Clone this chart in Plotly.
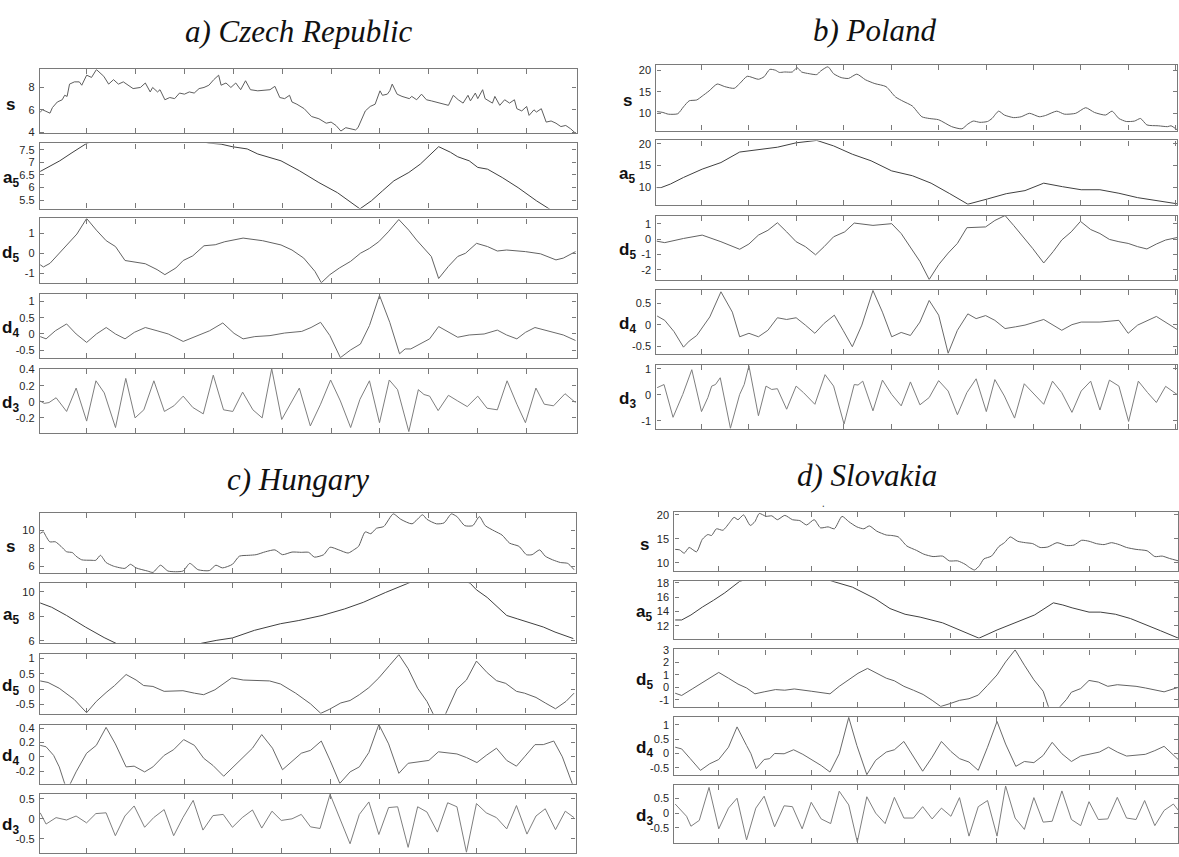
import plotly.graph_objects as go

W, H = 1179, 857

# ---------------- data: (month index, value) ----------------
# a) Czech Republic
cz_s = [(1,5.8),(2,6.0),(3,5.9),(5,5.7),(6,6.2),(8,6.7),(10,6.9),(11,7.3),(12,7.2),(13,8.3),(15,8.5),(17,8.5),(18,8.2),(20,9.1),(22,8.9),(24,9.6),(27,9.0),(29,8.3),(31,8.7),(33,8.3),(35,8.5),(37,8.2),(39,7.9),(42,8.0),(44,8.4),(46,7.6),(47,8.0),(49,7.6),(50,7.8),(52,6.9),(54,7.1),(56,7.0),(58,7.5),(60,7.4),(62,7.6),(64,7.5),(66,7.9),(68,8.0),(70,8.2),(72,8.7),(74,9.1),(75,8.2),(77,8.4),(79,8.0),(81,8.4),(83,7.8),(85,8.6),(87,7.8),(90,7.7),(95,7.8),(97,8.1),(99,7.1),(101,7.0),(103,7.3),(104,6.7),(106,6.5),(109,6.1),(112,5.4),(115,5.2),(118,4.8),(120,4.9),(122,4.6),(124,4.1),(126,4.4),(128,4.3),(130,4.2),(131,4.4),(133,5.3),(134,5.9),(136,6.3),(138,6.5),(140,7.7),(141,7.3),(143,7.4),(144,7.7),(145,8.3),(147,7.4),(149,7.2),(152,7.0),(153,7.2),(155,6.9),(157,7.4),(159,6.9),(161,6.8),(164,6.6),(166,6.5),(168,6.4),(170,7.3),(172,6.9),(174,6.6),(176,7.3),(177,6.8),(179,7.5),(180,7.0),(182,7.8),(183,7.0),(186,6.6),(187,7.2),(189,6.4),(191,6.9),(193,6.6),(195,6.9),(196,6.1),(198,5.9),(200,6.3),(201,5.5),(203,6.0),(204,5.8),(206,6.1),(208,4.9),(210,5.0),(212,4.8),(214,4.5),(216,4.6),(218,4.3),(220,3.9)]
cz_a5 = [(1,6.64),(5,6.85),(9,7.06),(14,7.38),(20,7.75),(30,8.1),(40,8.3),(50,8.35),(60,8.2),(66,7.85),(70,7.76),(75,7.72),(79.5,7.62),(85.7,7.53),(90,7.33),(99.5,7.06),(107,6.67),(115,6.2),(122.6,5.8),(131.8,5.16),(136.5,5.48),(141,5.87),(145.7,6.27),(151.8,6.6),(156.5,6.93),(164,7.62),(168.8,7.4),(171.8,7.22),(176.5,7.06),(180,6.8),(184,6.73),(190,6.4),(196.5,6.0),(204,5.48),(211,5.1),(220,4.5)]
cz_d5 = [(1,-0.57),(2.3,-0.68),(5,-0.5),(8,-0.1),(10,0.2),(13,0.55),(16,0.95),(20,1.72),(24,1.14),(28,0.62),(31.8,0.33),(35.7,-0.36),(39.5,-0.44),(44,-0.52),(48.8,-0.81),(52,-1.06),(56.5,-0.73),(59.5,-0.36),(63.4,-0.13),(68,0.37),(72.6,0.42),(76.5,0.57),(84,0.75),(92,0.62),(99.5,0.41),(104,0.16),(108.8,-0.24),(113.4,-0.9),(116,-1.46),(119.5,-1.06),(123.4,-0.73),(128,-0.4),(132,0),(135.7,0.24),(139.5,0.57),(143.4,1.06),(147.7,1.67),(151.8,1.14),(155,0.65),(158.8,0.16),(161,-0.16),(164,-1.25),(168,-0.65),(171.8,-0.16),(175,0),(179.5,0.49),(184,0.33),(188,0.11),(191.8,0.16),(199.5,0.08),(205.7,-0.03),(212,-0.33),(215,-0.24),(220,0.08)]
cz_d4 = [(1,-0.08),(3.4,-0.15),(7.2,0.1),(11.8,0.31),(15.7,0),(20,-0.26),(24,0),(28,0.2),(31.8,0),(35.7,-0.15),(39.5,0.05),(44,0.2),(48.8,0.1),(53.4,0),(59.5,-0.23),(64,-0.1),(70.3,0.1),(75.7,0.34),(80.3,0.02),(84,-0.15),(88.8,-0.08),(95,-0.05),(101,0.03),(108,0.08),(111.8,0.2),(115.7,0.36),(119.5,-0.05),(123.8,-0.73),(128,-0.49),(132,-0.31),(135.7,0.26),(139.8,1.19),(144,0.36),(148,-0.61),(150.3,-0.46),(152.6,-0.46),(156.5,-0.31),(160.3,-0.15),(164,0.23),(168,0.05),(171.8,-0.1),(176.5,-0.03),(182.6,0),(188,0.12),(191.8,-0.03),(196,-0.15),(199.5,0.05),(203.4,0.2),(208.8,0.1),(215,-0.03),(220,-0.2)]
cz_d3 = [(1,0.01),(2.6,-0.02),(4.6,-0.01),(7.5,0.05),(11.8,-0.12),(15.7,0.17),(20,-0.24),(23.8,0.26),(27.2,0.11),(31.8,-0.32),(36,0.29),(39.8,-0.2),(43.4,-0.1),(47.5,0.26),(51.8,-0.12),(55.7,-0.05),(59.5,0.07),(63.4,-0.07),(67.7,-0.15),(71.8,0.33),(76,-0.1),(79.8,-0.12),(83.8,0.12),(88,-0.1),(91.8,-0.2),(95.7,0.41),(99.8,-0.22),(103.4,-0.03),(107,0.17),(111.5,-0.3),(115.7,-0.03),(119.8,0.27),(123.8,0.01),(128,-0.32),(131.8,0.03),(135.7,0.26),(139.8,-0.26),(143.8,0.27),(147.2,0.15),(151.8,-0.37),(155.7,0.15),(158,0.09),(160.3,0.07),(163.8,-0.11),(168,0.08),(171.8,0.01),(175.7,-0.06),(180,0.07),(183.8,-0.08),(188,-0.1),(192,0.26),(196,-0.03),(199.5,-0.26),(203.8,0.17),(207.2,-0.03),(211,-0.05),(215.7,0.1),(220,-0.01)]

# b) Poland
pl_s = [(1.3,10.4),(3.7,10.2),(6,9.8),(10,9.9),(12.4,11.5),(14.8,12.9),(18,13.1),(20.3,14),(23.2,15.2),(26.6,16.8),(29.8,16.2),(33.8,15.8),(36.1,16.9),(39.3,18.6),(44,17.9),(46.4,18.5),(48.8,20.2),(51.2,20),(52.8,19.5),(55.1,19.6),(58.3,19.6),(60.3,20.6),(62.2,19.6),(65.4,19.2),(68.6,19),(70.2,19.8),(73.3,20.8),(75.7,19.2),(78.9,18.3),(82,18.1),(85.5,19.1),(89.1,17.8),(93.1,16.9),(97.8,16.2),(101.8,13.8),(105,12.8),(108.9,11.7),(112.9,9.2),(116,8.8),(120,8.5),(125.5,6.9),(129.8,6.4),(132.3,7.5),(134.6,8.2),(137.4,7.9),(140.6,8.1),(142.5,8.8),(145.3,10.5),(147.7,9.6),(151.6,9),(154.8,9.2),(158.3,10),(162.4,9.2),(165.1,9.5),(169.8,10.5),(173,9.8),(177.8,10),(182,11.3),(185.7,10.2),(190.4,9.6),(193.1,10.5),(196,8.8),(199.1,8.1),(202.6,8.2),(205.1,8.8),(207.8,7.3),(212.6,7.1),(216.5,6.9),(218,7.1),(220.5,6.2)]
pl_a5 = [(1,10),(3,10),(6.9,10.8),(12.4,12.3),(20.3,14.2),(28.2,15.7),(36.1,18.1),(44,18.7),(52,19.2),(59.9,20.2),(68.6,20.75),(75.7,19.5),(83.6,17.6),(91.5,16.1),(100.2,13.8),(108.9,12.7),(116.8,11),(124.7,8.6),(132.3,6.2),(140.6,7.4),(148.5,8.6),(156.4,9.3),(164.3,11),(172.2,10.2),(180.1,9.5),(188,9.5),(196,8.7),(203.9,7.7),(220.5,6.3)]
pl_d5 = [(1,-0.13),(4.5,-0.23),(12.4,0.04),(20.3,0.26),(28.2,-0.17),(36.1,-0.66),(40,-0.32),(44,0.26),(48,0.57),(52,1.06),(55.9,0.47),(59.9,-0.17),(63.8,-0.49),(68.1,-1.02),(71.7,-0.49),(75.7,0.15),(80.4,0.47),(84.4,1.04),(92.3,0.89),(100.2,1.0),(104.2,0.36),(108.9,-0.7),(112.1,-1.45),(116,-2.62),(120,-1.66),(124,-0.91),(127.9,-0.28),(131.9,0.74),(139.8,0.79),(143.7,1.21),(148,1.53),(151.6,0.89),(155.6,0.15),(159.6,-0.6),(164.3,-1.55),(168.3,-0.81),(171.9,-0.06),(175.9,0.47),(179.8,1.15),(184.1,0.62),(188,0.36),(192,-0.02),(196,-0.17),(199.9,-0.28),(203.9,-0.49),(207.8,-0.64),(211.8,-0.32),(215.7,-0.06),(220.5,0.1)]
pl_d4 = [(1.3,0.2),(4.5,0.1),(8.4,-0.16),(12.4,-0.52),(14.8,-0.38),(18,-0.25),(23.5,0.18),(28.2,0.76),(33,0.29),(36.1,-0.28),(40,-0.2),(44,-0.28),(48,-0.13),(52,0.16),(55.9,0.12),(59.9,0.16),(63.8,-0.01),(67.8,-0.2),(71.7,0.03),(76,0.22),(79.7,-0.13),(83.6,-0.51),(87.6,-0.01),(92.3,0.79),(96.3,0.29),(100.2,-0.28),(104.2,-0.18),(108.1,-0.25),(112.1,0.06),(116,0.56),(120,0.22),(124,-0.66),(127.9,-0.13),(132.3,0.25),(135.8,0.14),(139.8,0.21),(143.7,0.1),(148,-0.09),(152.4,-0.05),(156.4,-0.01),(164.3,0.12),(171.9,-0.13),(176.2,0),(180.1,0.06),(188,0.06),(196,0.1),(199.9,-0.2),(203.9,-0.01),(211.8,0.19),(216.5,0.02),(220.5,-0.11)]
pl_d3 = [(1.3,0.27),(4.2,0.39),(8,-0.87),(12.1,0.01),(15.9,0.96),(20,-0.65),(22.7,-0.11),(24.3,0.33),(25.9,0.39),(27.9,0.65),(32.2,-1.29),(36.1,0.01),(38,0.39),(40,1.11),(44,-0.81),(47.2,0.33),(49.6,0.2),(52,0.23),(55.9,-0.56),(59.9,0.33),(63,0.08),(67.8,-0.37),(72.1,0.77),(75.7,0.33),(80.1,-1.13),(84.4,0.39),(86,0.37),(88,0.52),(92.3,-0.62),(96.3,0.56),(100.2,0.01),(104.2,-0.43),(108.1,0.49),(112.1,-0.39),(116,-0.11),(120,0.54),(124,0.14),(127.9,-0.77),(131.9,0.08),(135.8,0.61),(140.1,-0.65),(143.7,0.58),(147.7,-0.05),(152,-0.9),(156.1,0.42),(160.4,0.01),(164.3,-0.37),(168,0.52),(171.9,0.08),(176.2,-0.68),(180.1,0.14),(184.1,0.52),(188,-0.59),(192,0.56),(196,0.33),(200.1,-1.03),(204.2,0.52),(208.1,0.08),(211.8,-0.3),(215.7,0.32),(220.5,0.01)]

# c) Hungary
hu_s = [(1,9.64),(2.3,9.8),(3.4,9.3),(4.9,8.7),(7.2,8.7),(9.5,8.2),(11.8,7.6),(14.2,7.5),(15.7,7.1),(18,6.7),(21.8,6.65),(23.8,6.65),(25.7,7.2),(28,6.4),(31,6.0),(35.7,5.75),(38,6.2),(40.3,5.8),(45,5.45),(47.2,5.3),(50.3,6.1),(53.4,5.45),(59.5,5.45),(62.3,6.3),(65.7,5.6),(70.3,5.5),(73,6.1),(75.7,5.8),(79.8,6.2),(82.6,7.1),(86.5,7.2),(89.5,7.27),(93.4,7.6),(97.2,7.8),(100.3,7.27),(104.2,7.56),(108,7.53),(111,7.53),(113.4,7.0),(117.2,7.27),(119.8,8.1),(123.4,7.8),(127.2,7.45),(129.5,7.8),(131.5,8.2),(134.2,9.8),(136.5,9.6),(138.8,10.2),(141.8,10.4),(145.7,11.8),(148.8,11.2),(153.4,10.7),(157.7,11.7),(159.5,11.2),(163.4,10.7),(166.5,10.8),(169.5,11.8),(171.8,11.5),(175,10.5),(178.3,10.5),(181,11.5),(183.4,10.5),(187.2,9.9),(190.3,9.45),(193.4,8.55),(197.2,8.2),(200.3,7.27),(202.6,7.27),(205.7,7.8),(208,7.1),(211,6.7),(214.2,6.4),(217.2,6.3),(219.8,5.6)]
hu_a5 = [(1,9.09),(5.7,8.74),(11.8,8.07),(19.5,7.13),(27.2,6.27),(32.8,5.73),(40,5.35),(50,5.15),(60,5.35),(67.2,5.81),(73.4,6.05),(79.8,6.24),(88.8,6.86),(99.5,7.4),(107,7.66),(116.5,8.07),(125.7,8.6),(133.4,9.14),(142.6,9.95),(151,10.7),(158,11.2),(164,11.35),(171,11.15),(177.2,10.7),(179.8,10.16),(184.2,9.54),(188.8,8.74),(192.2,8.07),(196.5,7.8),(201,7.53),(207.2,7.13),(212,6.72),(219.5,6.19)]
hu_d5 = [(1,0.27),(4.2,0.22),(8.8,0.03),(15,-0.34),(20,-0.77),(24,-0.4),(28,-0.11),(31.5,0.12),(36.2,0.48),(40.3,0.3),(43.4,0.12),(47.2,0.09),(51.8,-0.07),(59.5,-0.05),(64.2,-0.13),(68,-0.18),(72.6,-0.02),(79.5,0.37),(84.2,0.3),(90.3,0.27),(95,0.27),(99.5,0.17),(105.7,-0.13),(111.8,-0.48),(116,-0.79),(119.5,-0.66),(124.2,-0.45),(128,-0.37),(131.8,-0.18),(135.7,0.05),(139.8,0.37),(144.2,0.78),(148,1.13),(151.8,0.67),(155.7,0.03),(159.5,-0.4),(161.8,-0.8),(164.5,-1.2),(167.2,-0.8),(171.8,0.01),(175.7,0.3),(179.8,0.92),(184.2,0.54),(188,0.28),(191.8,0.19),(196.2,-0.07),(199.5,-0.13),(204.2,-0.27),(208,-0.45),(212.2,-0.64),(216.5,-0.4),(219.8,-0.13)]
hu_d4 = [(1,0.16),(3.4,0.14),(6.5,0.02),(8.8,-0.14),(11,-0.37),(12.2,-0.42),(13.4,-0.37),(15.7,-0.21),(20,0.05),(24,0.16),(28,0.41),(31.8,0.18),(36.2,-0.14),(39.5,-0.13),(43.8,-0.21),(47.2,-0.14),(51.8,0.02),(55.7,0.1),(59.8,0.24),(64.2,0.16),(68,-0.02),(71.8,-0.12),(76.2,-0.27),(80.3,-0.13),(84.2,0),(88,0.12),(91.8,0.31),(96.2,0.12),(100.3,-0.18),(104.2,-0.07),(108,0.05),(111.8,0.09),(116.2,0.22),(119.8,-0.05),(123.8,-0.37),(128,-0.21),(131.8,-0.14),(135.7,0.06),(139.8,0.45),(143.8,0.18),(148,-0.23),(151.8,-0.09),(155.7,-0.07),(160.3,-0.05),(164.2,0.07),(168,0.05),(171.8,0.04),(175.7,-0.01),(180,-0.08),(183.8,0.02),(188,0.12),(192.2,-0.05),(196.2,-0.13),(199.5,0),(203.8,0.17),(207.2,0.17),(211.5,0.22),(215,0),(218.8,-0.37),(220,-0.46)]
hu_d3 = [(1,0.15),(3.4,-0.13),(7.5,0.03),(11.8,-0.03),(15.7,0.07),(20,-0.1),(23.8,0.13),(28,0.15),(31.8,-0.42),(35.7,0.07),(39.5,0.32),(43.8,-0.21),(47.5,0.03),(51.8,0.23),(55.7,-0.42),(59.5,0.03),(63.7,0.46),(67.7,-0.28),(71.8,0.08),(76,0.11),(79.8,-0.21),(83.8,0.03),(88,0.22),(91.8,-0.23),(96,0.19),(99.8,-0.04),(104.2,0),(108,0.11),(111.8,-0.2),(115.7,-0.24),(119.8,0.61),(123.8,0.03),(128,-0.62),(131.8,0.11),(135.7,0.42),(139.8,-0.39),(143.8,0.28),(147.5,0.3),(151.8,-0.71),(155.7,0.3),(159.5,0.17),(163.8,-0.33),(168,0.4),(171.8,0.3),(175.7,-0.83),(179.8,0.38),(183.8,0.15),(188,0.03),(192.2,-0.25),(196.2,0.33),(200.5,-0.38),(204.2,0.07),(208,0.25),(212.2,-0.27),(216.2,0.19),(219.8,0.03)]

# d) Slovakia
sk_s = [(1.2,12.8),(3.1,12.7),(5.1,12.0),(7.2,13.2),(10.4,12.3),(12.9,14.9),(15.3,15.9),(16.9,15.7),(19,17.1),(21.8,16.8),(25,18.6),(26.6,19.5),(28.3,19.0),(30.7,20.0),(33.6,17.8),(35.6,18.6),(37.5,20.3),(40.4,19.7),(42.9,19.8),(45.3,19.0),(48.5,19.9),(51.8,19.0),(55,18.8),(57.9,17.9),(61.2,19.0),(63.9,17.3),(67.2,17.5),(69.9,17.1),(73.2,19.7),(76.1,18.6),(79.6,17.5),(82.6,17.1),(85,17.7),(88.2,16.6),(92.3,15.8),(94.7,15.7),(97.5,15.4),(101.2,13.5),(105.3,12.6),(108.5,11.8),(112.5,11.3),(116.6,11.4),(119.5,10.4),(123.1,10.4),(126.3,9.7),(128.3,9.0),(130.4,8.5),(132.5,9.4),(134.4,10.8),(137.7,11.4),(140.9,13.4),(143.3,14.2),(145.8,15.4),(149,14.5),(152.3,14.2),(155.5,14.0),(158.7,13.2),(162,13.3),(166,14.2),(170.1,13.6),(173.3,13.7),(176.6,14.7),(179.8,14.5),(183,14.0),(186.3,13.8),(189.5,14.2),(192.8,13.8),(196,13.2),(200.1,12.8),(204.9,12.5),(208.2,11.3),(211.4,11.4),(214.6,10.9),(218.4,10.4)]
sk_a5 = [(1.2,12.8),(4,12.8),(8,13.5),(12.9,14.6),(17.7,15.55),(22.6,16.6),(29,18.2),(40,19.3),(50,19.6),(60,19.2),(69.3,18.2),(77.7,17.4),(87.4,15.8),(93.9,14.4),(100.4,13.6),(106.9,13.2),(116.6,12.4),(124.7,11.3),(132.3,10.25),(140.1,11.4),(148.2,12.4),(156.3,13.5),(164.4,15.2),(168.5,14.9),(172.5,14.5),(179.8,13.9),(184.7,13.9),(191.2,13.6),(197.7,13.0),(204.1,12.1),(210.6,11.3),(218.4,10.25)]
sk_d5 = [(1.2,-0.47),(4,-0.65),(8.8,-0.1),(12.1,0.29),(15.8,0.68),(20,1.19),(24.2,0.73),(28.3,0.26),(32,-0.05),(35.6,-0.52),(39.6,-0.36),(44.5,-0.18),(48.5,-0.23),(52.6,-0.13),(59.9,-0.31),(68,-0.52),(72,0.08),(76.1,0.6),(80.1,1.12),(84.2,1.51),(88.2,1.12),(92.3,0.73),(95.8,0.52),(99.9,0.08),(104,-0.23),(108.2,-0.57),(112.1,-1.04),(115.8,-1.53),(119.8,-1.3),(123.9,-1.04),(128,-0.91),(132,-0.62),(136,0.16),(140.1,0.99),(143.8,2.03),(147.9,2.99),(151.9,1.77),(156,0.6),(160,-0.31),(162.3,-1.56),(164.7,-2.2),(167.2,-1.56),(170.1,-0.96),(172.2,-0.39),(176.2,-0.1),(179.8,0.55),(183.8,0.42),(187.9,0.08),(192,0.21),(200.1,0.08),(204.1,-0.05),(212.2,-0.36),(218.4,0)]
sk_d4 = [(1.2,0.22),(4,0.16),(7.7,-0.18),(12.1,-0.59),(16.1,-0.36),(20,-0.21),(24.2,0.22),(27.9,0.93),(32,0.28),(33.9,-0.01),(36.2,-0.53),(39.6,-0.21),(42,-0.18),(44.1,0),(48.2,-0.01),(52.3,0.13),(56.3,-0.03),(60.4,-0.24),(64.2,-0.42),(68,-0.65),(72,-0.01),(76.1,1.26),(79.6,0.28),(83.9,-0.74),(87.7,-0.24),(92.3,0.05),(95.8,0.13),(99.9,0.42),(104,-0.13),(108,-0.62),(112.1,-0.13),(116.1,0.42),(120.2,0.07),(123.9,-0.18),(128,-0.3),(132,-0.59),(136,0.22),(140.1,1.12),(143.8,0.33),(148.2,-0.45),(151.9,-0.28),(156,-0.32),(160,-0.07),(163.9,0.39),(168.1,-0.01),(172.2,-0.28),(176.2,-0.09),(180.3,-0.01),(184.3,0.05),(188.2,0.22),(192,0.05),(196,-0.09),(200.1,-0.05),(204.1,-0.03),(208.2,0.1),(212.2,0.25),(218.4,-0.22)]
sk_d3 = [(1.2,0.31),(4,0.09),(6.1,-0.11),(8,-0.45),(11.6,-0.25),(15.8,0.88),(20,-0.54),(24.2,0.17),(27.9,0.51),(32,-0.92),(36,0.17),(39.6,0.58),(44.1,-0.47),(48.2,0.25),(51.8,0.22),(56,-0.54),(59.9,0.37),(64.2,-0.2),(68.3,-0.36),(72,0.75),(76.1,0.28),(79.8,-0.99),(83.9,0.56),(87.7,0),(91.8,-0.36),(95.8,0.54),(99.9,-0.17),(104,-0.17),(108,0.22),(112.1,-0.2),(116.1,0.17),(120.2,-0.11),(123.9,0.53),(128,-0.79),(132,0.22),(136,0.43),(140.1,-0.79),(143.8,0.93),(147.9,-0.17),(151.9,-0.56),(156,0.53),(160,-0.31),(163.9,-0.28),(168.1,0.76),(172.2,-0.22),(176.2,-0.43),(179.8,0.39),(183.8,-0.22),(187.9,-0.2),(192,0.54),(196,-0.17),(200.1,-0.22),(203.8,0.43),(208.2,-0.43),(212.2,0.09),(216.2,0.31),(218.4,0.09)]

# titles, row labels, y tick values
titles = ["a) Czech Republic", "b) Poland", "c) Hungary", "d) Slovakia"]
row_labels = [("s", ""), ("a", "5"), ("d", "5"), ("d", "4"), ("d", "3")]
x_ticks = [20, 40, 60, 80, 100, 120, 140, 160, 180, 200, 220]
yticks = [
    [[4, 6, 8], [5.5, 6, 6.5, 7, 7.5], [-1, 0, 1], [-0.5, 0, 0.5, 1], [-0.2, 0, 0.2, 0.4]],
    [[10, 15, 20], [10, 15, 20], [-2, -1, 0, 1], [-0.5, 0, 0.5], [-1, 0, 1]],
    [[6, 8, 10], [6, 8, 10], [-0.5, 0, 0.5, 1], [-0.2, 0, 0.2, 0.4], [-0.5, 0, 0.5]],
    [[10, 15, 20], [12, 14, 16, 18], [-1, 0, 1, 2, 3], [-0.5, 0, 0.5, 1], [-0.5, 0, 0.5]],
]
series = [
    [cz_s, cz_a5, cz_d5, cz_d4, cz_d3],
    [pl_s, pl_a5, pl_d5, pl_d4, pl_d3],
    [hu_s, hu_a5, hu_d5, hu_d4, hu_d3],
    [sk_s, sk_a5, sk_d5, sk_d4, sk_d3],
]

# ---------------- layout (pixel boxes) ----------------
yranges = [
    [[3.88, 9.63], [5.17, 7.75], [-1.46, 1.72], [-0.735, 1.245], [-0.387, 0.41]],
    [[6.0, 21.15], [6.1, 20.75], [-2.64, 1.53], [-0.676, 0.81], [-1.32, 1.15]],
    [[5.2, 11.9], [5.79, 10.7], [-0.8, 1.14], [-0.376, 0.45], [-0.85, 0.625]],
    [[8.22, 20.6], [10.2, 18.23], [-1.55, 3.03], [-0.75, 1.29], [-1.03, 0.97]],
]
panel_layout = [
    dict(x0=40, x1=577, xr=[0.9, 220.4], tx=299, ty=26, lx=11,
         rows=[(64, 129), (139, 205), (215, 280), (291, 356), (367, 432)]),
    dict(x0=657, x1=1178, xr=[1.0, 220.5], tx=876, ty=25, lx=628,
         rows=[(60, 126), (136, 201), (212, 277), (287, 352), (363, 428)]),
    dict(x0=40, x1=576, xr=[0.9, 220.4], tx=298, ty=479, lx=11,
         rows=[(513, 574), (584, 645), (656, 716), (727, 787), (797, 857)]),
    dict(x0=675, x1=1179, xr=[0.87, 218.2], tx=868, ty=475, lx=645,
         rows=[(512, 572), (582, 640), (651, 709), (719, 778), (788, 847)]),
]

AX = "#7a7a7a"
line_colors = ["#5e5e5e", "#404040", "#626262", "#6a6a6a", "#7e7e7e"]
TICKFONT = dict(family="Liberation Sans Narrow, Liberation Sans, Arial", size=11, color="#262626")

fig = go.Figure()
annotations = []
layout = dict(width=W, height=H, margin=dict(l=0, r=0, t=0, b=0),
              paper_bgcolor="white", plot_bgcolor="white", showlegend=False)

def fmt(v):
    return "%g" % v

for p in range(4):
    pl = panel_layout[p]
    for r in range(5):
        n = p * 5 + r + 1
        xs, ys = zip(*series[p][r])
        shape = "spline" if (r == 0 and p > 0) else "linear"
        fig.add_trace(go.Scatter(
            x=list(xs), y=list(ys), mode="lines",
            line=dict(color=line_colors[r], width=1, shape=shape, smoothing=0.6),
            xaxis="x" if n == 1 else f"x{n}", yaxis="y" if n == 1 else f"y{n}",
            hoverinfo="skip"))
        top, bot = pl["rows"][r]
        xk = "xaxis" if n == 1 else f"xaxis{n}"
        yk = "yaxis" if n == 1 else f"yaxis{n}"
        layout[xk] = dict(domain=[pl["x0"] / W, pl["x1"] / W], range=pl["xr"],
                          anchor="y" if n == 1 else f"y{n}",
                          showline=True, linecolor=AX, linewidth=1.3, mirror="ticks",
                          ticks="inside", ticklen=5, tickcolor=AX, tickwidth=1,
                          tickvals=x_ticks, showticklabels=False,
                          showgrid=False, zeroline=False, fixedrange=True)
        tv = yticks[p][r]
        layout[yk] = dict(domain=[1 - bot / H, 1 - top / H], range=yranges[p][r],
                          anchor="x" if n == 1 else f"x{n}",
                          showline=True, linecolor=AX, linewidth=1.3, mirror="ticks",
                          ticks="inside", ticklen=4, tickcolor=AX, tickwidth=1,
                          tickvals=tv, ticktext=[fmt(v) for v in tv],
                          tickfont=TICKFONT, ticklabelstandoff=2,
                          showgrid=False, zeroline=False, fixedrange=True)
        main, sub = row_labels[r]
        txt = f"<b>{main}</b>" + (f"<sub><b>{sub}</b></sub>" if sub else "")
        annotations.append(dict(
            x=pl["lx"] / W, y=1 - ((top + bot) / 2 + 3) / H, xref="paper", yref="paper",
            text=txt, showarrow=False, xanchor="center", yanchor="middle",
            font=dict(family="Liberation Sans Narrow, Liberation Sans, Arial", size=17, color="#111")))
    annotations.append(dict(
        x=pl["tx"] / W, y=1 - pl["ty"] / H, xref="paper", yref="paper",
        text=f"<i>{titles[p]}</i>", showarrow=False, xanchor="center", yanchor="middle",
        font=dict(family="Liberation Serif, Times New Roman, serif", size=31, color="#111")))

annotations.append(dict(x=828 / W, y=1 - 503 / H, xref="paper", yref="paper", text=".",
                        showarrow=False, font=dict(size=10, color="#333")))
layout["annotations"] = annotations
fig.update_layout(**layout)

fig.write_html("out.html", config={"displayModeBar": False},
               post_script="document.body.style.margin='0';document.body.style.overflow='hidden';")
